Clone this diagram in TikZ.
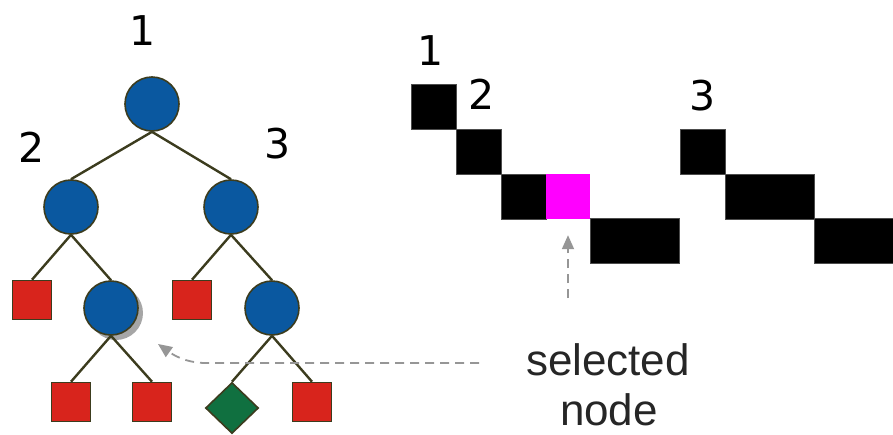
\documentclass[tikz,border=0pt]{standalone}
\usepackage{fontspec}
\setmainfont{DejaVu Sans}
\newfontfamily\lblfont{Liberation Sans}
\usetikzlibrary{shapes.geometric,arrows.meta}
\definecolor{nblue}{RGB}{10,88,160}
\definecolor{nred}{RGB}{216,36,28}
\definecolor{ngreen}{RGB}{16,112,64}
\definecolor{nline}{RGB}{60,60,30}
\definecolor{arrgray}{RGB}{150,150,150}
\definecolor{nmag}{RGB}{255,0,255}
\begin{document}
\begin{tikzpicture}[x=1pt,y=-1pt,
  inner/.style={circle,draw=nline,line width=1.6pt,fill=nblue,minimum size=54pt,inner sep=0pt},
  leaf/.style={rectangle,draw=nline,line width=1.6pt,fill=nred,minimum size=39pt,inner sep=0pt},
  gleaf/.style={diamond,draw=nline,line width=1.6pt,fill=ngreen,minimum width=53pt,minimum height=51pt,inner sep=0pt},
  tedge/.style={draw=nline,line width=2.4pt},
  num/.style={font=\fontsize{41}{48}\selectfont,inner sep=0pt},
  cell/.style={rectangle,fill=black,draw=black!70,line width=0.4pt,minimum height=45pt,inner sep=0pt},
  arr/.style={draw=arrgray,line width=1.8pt,dash pattern=on 9pt off 6pt,-{Triangle[length=14pt,width=12pt]}},
  lbl/.style={font=\lblfont\fontsize{44}{50}\selectfont,text=black!85,inner sep=0pt,anchor=base}]
\useasboundingbox (0,0) rectangle (893,434);
% tree
\node[inner] (r) at (152,104) {};
\node[inner] (a) at (71,207) {};
\node[inner] (b) at (231,207) {};
\node[leaf] (a1) at (32,300) {};
\fill[black!35] (116,313) circle (27);
\node[inner] (a2) at (111,308) {};
\node[leaf] (b1) at (192,300) {};
\node[inner] (b2) at (272,308) {};
\node[leaf] (a21) at (71,402) {};
\node[leaf] (a22) at (152,402) {};
\node[gleaf] (b21) at (232,408) {};
\node[leaf] (b22) at (312,402) {};
\foreach \p/\c in {r/a,r/b,a/a1,a/a2,b/b1,b/b2,a2/a21,a2/a22,b2/b21,b2/b22}
  \draw[tedge] (\p.south) -- (\c.north);
\node[num] (t1) at (143,31) {1};
\node[num] (t2) at (32,147) {2};
\node[num] (t3) at (278,144) {3};
% sequence
\node[cell,minimum width=45pt] (c1) at (433.5,106.5) {};
\node[cell,minimum width=45pt] (c2) at (478.5,151.5) {};
\node[cell,minimum width=45pt] (c3) at (523.5,196.5) {};
\node[rectangle,fill=nmag,minimum width=44pt,minimum height=45pt,inner sep=0pt] (mag) at (568,196.5) {};
\node[cell,minimum width=89pt] (c4) at (634.5,241) {};
\node[cell,minimum width=45pt] (d1) at (702.5,151.5) {};
\node[cell,minimum width=89pt] (d2) at (769.5,196.5) {};
\node[cell,minimum width=79pt] (d3) at (854,241) {};
\node[num] (s1) at (431,51) {1};
\node[num] (s2) at (482,94) {2};
\node[num] (s3) at (703,96) {3};
% annotation
\node[lbl] (sel) at (608,375) {selected};
\node[lbl] (nd) at (609,425) {node};
\coordinate (upstart) at (568,298);
\coordinate (hstart) at (479,363);
\coordinate (htip) at (158,344);
\draw[arr,shorten >=16pt] (upstart) -- (mag.south);
\draw[arr] (hstart) -- (206,363) .. controls (185,363) and (172,354) .. (htip);
\end{tikzpicture}
\end{document}
